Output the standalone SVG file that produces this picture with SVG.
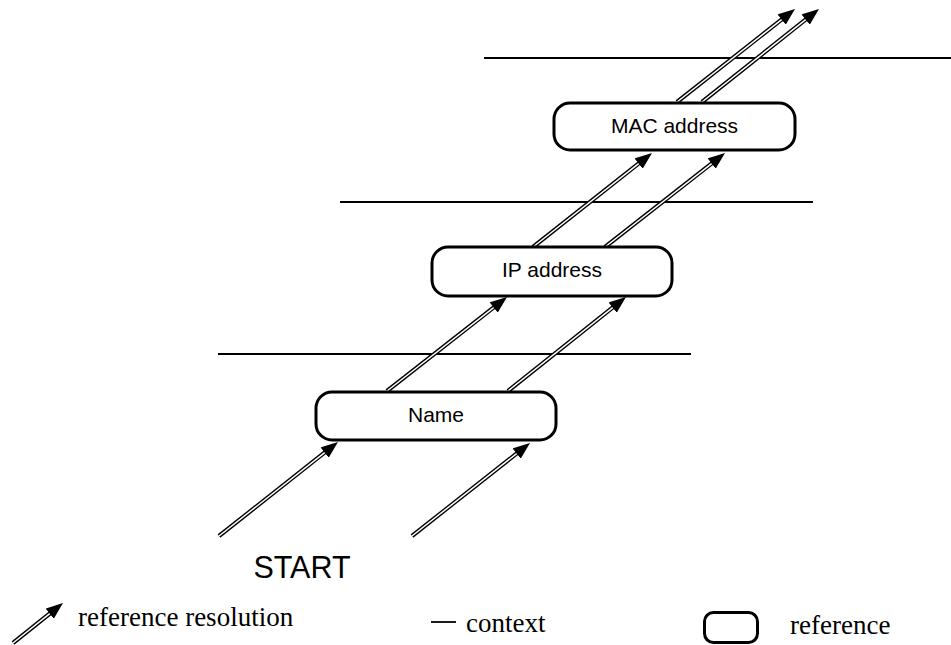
<svg xmlns="http://www.w3.org/2000/svg" width="951" height="645" viewBox="0 0 951 645">
  <defs>
    <marker id="head" markerUnits="userSpaceOnUse" markerWidth="18" markerHeight="14" viewBox="0 -7 18 14" refX="7" refY="0" orient="auto">
      <path d="M0,-6.5 L17,0 L0,6.5 z" fill="#000"/>
    </marker>
    <style>
      .ctx { stroke: #000; stroke-width: 1.8; fill: none; }
      .outer { stroke: #000; stroke-width: 4.2; fill: none; marker-end: url(#head); }
      .inner { stroke: #fff; stroke-width: 1.5; fill: none; }
      .box { fill: #fff; stroke: #000; stroke-width: 3; }
      .lbl { font-family: "Liberation Sans", Arial, sans-serif; font-size: 21px; fill: #000; text-anchor: middle; }
      .leg { font-family: "Liberation Serif", "Times New Roman", serif; font-size: 27px; fill: #000; }
    </style>
  </defs>
  <rect width="951" height="645" fill="#fff"/>

  <!-- context boundaries -->
  <g id="contexts">
    <line class="ctx" x1="484" y1="58" x2="951" y2="58"/>
    <line class="ctx" x1="340" y1="202" x2="813" y2="202"/>
    <line class="ctx" x1="218" y1="354" x2="691" y2="354"/>
  </g>

  <!-- resolution steps: double-stroked arrows -->
  <g id="connectors">
    <path class="outer" d="M219,536 L330.15,448.2"/>
    <path class="inner" d="M219,536 L324.65,452.54"/>
    <path class="outer" d="M412,536 L522.15,449.2"/>
    <path class="inner" d="M412,536 L516.65,453.54"/>

    <path class="outer" d="M387,391 L499.15,303.2"/>
    <path class="inner" d="M387,391 L493.65,307.54"/>
    <path class="outer" d="M508,391 L618.15,303.2"/>
    <path class="inner" d="M508,391 L612.65,307.54"/>

    <path class="outer" d="M533,247 L644.15,159.2"/>
    <path class="inner" d="M533,247 L638.65,163.54"/>
    <path class="outer" d="M605,247 L717.15,159.2"/>
    <path class="inner" d="M605,247 L711.65,163.54"/>

    <path class="outer" d="M677,102 L787.15,15.2"/>
    <path class="inner" d="M677,102 L781.65,19.54"/>
    <path class="outer" d="M702,102 L811.15,15.2"/>
    <path class="inner" d="M702,102 L805.65,19.54"/>
  </g>

  <!-- references -->
  <g id="name">
    <rect class="box" x="316" y="392" width="240" height="48" rx="16"/>
    <text class="lbl" x="436" y="422">Name</text>
  </g>
  <g id="ip-address">
    <rect class="box" x="432" y="247" width="240" height="49" rx="16"/>
    <text class="lbl" x="552" y="277">IP address</text>
  </g>
  <g id="mac-address">
    <rect class="box" x="554" y="103" width="241" height="47" rx="16"/>
    <text class="lbl" x="674.5" y="133">MAC address</text>
  </g>

  <g id="start">
    <text x="302" y="578" font-family="'Liberation Sans', Arial, sans-serif" font-size="30.5" text-anchor="middle" fill="#000">START</text>
  </g>

  <!-- legend -->
  <g id="legend">
    <path class="outer" d="M13,643 L55.19,609.25"/>
    <path class="inner" d="M13,643 L49.72,613.63"/>
    <text class="leg" x="78" y="626">reference resolution</text>
    <line class="ctx" x1="431" y1="622" x2="456" y2="622"/>
    <text class="leg" x="466" y="632">context</text>
    <rect class="box" x="704.5" y="612.5" width="53" height="30" rx="9" stroke-width="3.5"/>
    <text class="leg" x="790" y="634">reference</text>
  </g>
</svg>
